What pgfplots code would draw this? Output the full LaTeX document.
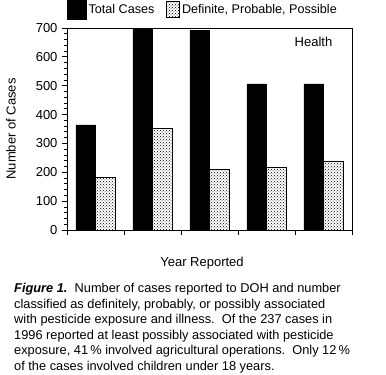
\documentclass[border=0pt]{standalone}
\usepackage{fontspec}
\setmainfont{Liberation Sans}
\usepackage{pgfplots}
\pgfplotsset{compat=1.18}
\usetikzlibrary{patterns}
\begin{document}
\fontsize{13}{16}\selectfont
\begin{tikzpicture}
\path[use as bounding box] (0pt,0pt) rectangle (386pt,-375pt);
\begin{axis}[
  at={(67pt,-230pt)}, anchor=south west,
  scale only axis, width=285pt, height=202pt,
  xmin=0.5, xmax=5.5, ymin=0, ymax=700,
  xtick={0.5,1.5,2.5,3.5,4.5,5.5}, xticklabels={},
  ytick={0,100,...,700}, minor y tick num=4,
  tick pos=left, tick align=outside,
  major tick length=5pt, minor tick length=3pt,
  tick style={black, line width=0.8pt},
  axis line style={line width=0.8pt},
  /pgf/number format/assume math mode=true,
  ticklabel style={font=\fontsize{13}{15}\selectfont},
  legend columns=2,
  legend style={at={(0,1)}, anchor=south west, draw=none, fill=none,
    font=\fontsize{12.6}{15}\selectfont, inner sep=0pt, xshift=0pt, yshift=8pt,
    /tikz/every even column/.append style={column sep=10pt}},
  legend cell align=left,
]
\addplot[ybar, bar width=19.5pt, bar shift=-9.75pt, fill=black, draw=black, forget plot] coordinates {(1,364) (2,760) (3,693) (4,506) (5,506)};
\addplot[ybar, bar width=19.5pt, bar shift=9.75pt, pattern=crosshatch dots, pattern color=black, draw=black, line width=0.6pt, forget plot] coordinates {(1,183) (2,352) (3,210) (4,217) (5,237)};
\addlegendimage{legend image code/.code={\fill[black] (0pt,-10pt) rectangle (19pt,9pt);}}
\addlegendentry{Total Cases}
\addlegendimage{legend image code/.code={\draw[pattern=crosshatch dots, line width=0.6pt] (4pt,-8pt) rectangle (17pt,8pt);}}
\addlegendentry{Definite, Probable, Possible}
\node[anchor=center] at (rel axis cs:0.865,0.93) {Health};
\end{axis}
\node[rotate=90] at (11pt,-129pt) {Number of Cases};
\node at (202pt,-263pt) {Year Reported};
\node[anchor=north west, align=left, inner sep=0pt, font=\fontsize{12.8}{15.6}\selectfont] at (14pt,-283pt)
{\textbf{\textit{Figure 1.}}\ \ Number of cases reported to DOH and number\\
classified as definitely, probably, or possibly associated\\
with pesticide exposure and illness.\ \ Of the 237 cases in\\
1996 reported at least possibly associated with pesticide\\
exposure, 41\,\% involved agricultural operations.\ \ Only 12\,\%\\
of the cases involved children under 18 years.};
\end{tikzpicture}
\end{document}
